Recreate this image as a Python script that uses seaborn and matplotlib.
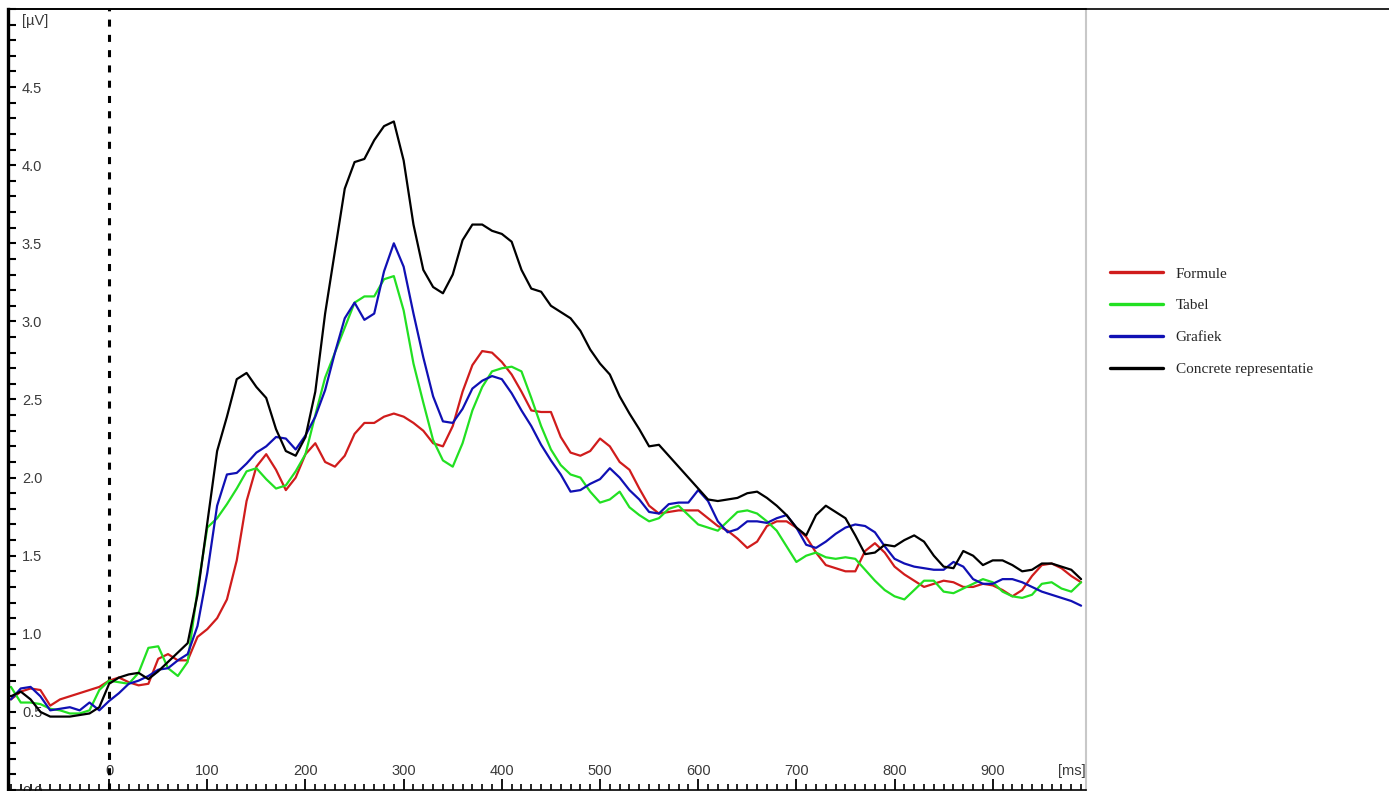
import matplotlib
matplotlib.use("Agg")
import matplotlib.pyplot as plt
from matplotlib.lines import Line2D
from matplotlib.ticker import FixedLocator
import numpy as np
import pandas as pd
import seaborn as sns

# Sample times (ms) of the averaged ERP waveforms
time_ms = list(range(-100, 1000, 10))

formule = [
    0.58, 0.63, 0.65, 0.64, 0.54, 0.58, 0.60, 0.62, 0.64, 0.66,
    0.70, 0.72, 0.69, 0.67, 0.68, 0.84, 0.87, 0.83, 0.83, 0.98,
    1.03, 1.10, 1.22, 1.47, 1.85, 2.07, 2.15, 2.05, 1.92, 2.00,
    2.15, 2.22, 2.10, 2.07, 2.14, 2.28, 2.35, 2.35, 2.39, 2.41,
    2.39, 2.35, 2.30, 2.22, 2.20, 2.33, 2.55, 2.72, 2.81, 2.80,
    2.74, 2.66, 2.55, 2.43, 2.42, 2.42, 2.26, 2.16, 2.14, 2.17,
    2.25, 2.20, 2.10, 2.05, 1.93, 1.82, 1.77, 1.78, 1.79, 1.79,
    1.79, 1.74, 1.69, 1.66, 1.61, 1.55, 1.59, 1.69, 1.72, 1.72,
    1.68, 1.62, 1.52, 1.44, 1.42, 1.40, 1.40, 1.53, 1.58, 1.52,
    1.43, 1.38, 1.34, 1.30, 1.32, 1.34, 1.33, 1.30, 1.30, 1.32,
    1.31, 1.28, 1.24, 1.28, 1.37, 1.44, 1.45, 1.42, 1.37, 1.33,
]

tabel = [
    0.66, 0.56, 0.56, 0.55, 0.52, 0.51, 0.49, 0.49, 0.51, 0.64,
    0.70, 0.69, 0.68, 0.75, 0.91, 0.92, 0.78, 0.73, 0.82, 1.28,
    1.68, 1.74, 1.83, 1.93, 2.04, 2.06, 1.99, 1.93, 1.95, 2.04,
    2.15, 2.40, 2.64, 2.80, 2.96, 3.12, 3.16, 3.16, 3.27, 3.29,
    3.07, 2.73, 2.48, 2.24, 2.11, 2.07, 2.22, 2.43, 2.58, 2.68,
    2.70, 2.71, 2.68, 2.51, 2.33, 2.18, 2.08, 2.02, 2.00, 1.91,
    1.84, 1.86, 1.91, 1.81, 1.76, 1.72, 1.74, 1.80, 1.82, 1.76,
    1.70, 1.68, 1.66, 1.72, 1.78, 1.79, 1.77, 1.72, 1.66, 1.56,
    1.46, 1.50, 1.52, 1.49, 1.48, 1.49, 1.48, 1.41, 1.34, 1.28,
    1.24, 1.22, 1.28, 1.34, 1.34, 1.27, 1.26, 1.29, 1.32, 1.35,
    1.33, 1.27, 1.24, 1.23, 1.25, 1.32, 1.33, 1.29, 1.27, 1.33,
]

grafiek = [
    0.58, 0.65, 0.66, 0.60, 0.51, 0.52, 0.53, 0.51, 0.56, 0.51,
    0.57, 0.62, 0.68, 0.70, 0.73, 0.77, 0.78, 0.83, 0.87, 1.05,
    1.39, 1.82, 2.02, 2.03, 2.09, 2.16, 2.20, 2.26, 2.25, 2.18,
    2.27, 2.39, 2.56, 2.80, 3.02, 3.12, 3.01, 3.05, 3.32, 3.50,
    3.35, 3.05, 2.77, 2.52, 2.36, 2.35, 2.44, 2.57, 2.62, 2.65,
    2.63, 2.54, 2.43, 2.33, 2.21, 2.11, 2.02, 1.91, 1.92, 1.96,
    1.99, 2.06, 2.00, 1.92, 1.86, 1.78, 1.77, 1.83, 1.84, 1.84,
    1.92, 1.85, 1.72, 1.65, 1.67, 1.72, 1.72, 1.71, 1.74, 1.76,
    1.68, 1.57, 1.55, 1.59, 1.64, 1.68, 1.70, 1.69, 1.65, 1.56,
    1.48, 1.45, 1.43, 1.42, 1.41, 1.41, 1.46, 1.43, 1.35, 1.32,
    1.32, 1.35, 1.35, 1.33, 1.30, 1.27, 1.25, 1.23, 1.21, 1.18,
]

concrete = [
    0.60, 0.63, 0.58, 0.50, 0.47, 0.47, 0.47, 0.48, 0.49, 0.53,
    0.68, 0.72, 0.74, 0.75, 0.71, 0.76, 0.82, 0.88, 0.94, 1.25,
    1.71, 2.17, 2.39, 2.63, 2.67, 2.58, 2.51, 2.31, 2.17, 2.14,
    2.26, 2.55, 3.05, 3.45, 3.85, 4.02, 4.04, 4.16, 4.25, 4.28,
    4.03, 3.62, 3.33, 3.22, 3.18, 3.30, 3.52, 3.62, 3.62, 3.58,
    3.56, 3.51, 3.33, 3.21, 3.19, 3.10, 3.06, 3.02, 2.94, 2.82,
    2.73, 2.66, 2.52, 2.41, 2.31, 2.20, 2.21, 2.14, 2.07, 2.00,
    1.93, 1.86, 1.85, 1.86, 1.87, 1.90, 1.91, 1.87, 1.82, 1.76,
    1.68, 1.63, 1.76, 1.82, 1.78, 1.74, 1.63, 1.51, 1.52, 1.57,
    1.56, 1.60, 1.63, 1.59, 1.50, 1.43, 1.42, 1.53, 1.50, 1.44,
    1.47, 1.47, 1.44, 1.40, 1.41, 1.45, 1.45, 1.43, 1.41, 1.35,
]

condities = ["Formule", "Tabel", "Grafiek", "Concrete representatie"]
kleuren = ["#d01c1c", "#22e022", "#1010b4", "#000000"]
y_ticks = [0.0, 0.5, 1.0, 1.5, 2.0, 2.5, 3.0, 3.5, 4.0, 4.5]
x_ticks = [0, 100, 200, 300, 400, 500, 600, 700, 800, 900]

frames = []
for naam, waarden in zip(condities, [formule, tabel, grafiek, concrete]):
    frames.append(pd.DataFrame({"ms": time_ms, "uV": waarden, "Conditie": naam}))
df = pd.concat(frames, ignore_index=True)

sns.set_theme(style="white")
plt.rcParams["font.family"] = ["Liberation Sans", "DejaVu Sans"]

W, H = 1389, 791
fig = plt.figure(figsize=(W / 100, H / 100), dpi=100)
fig.patch.set_facecolor("white")
ax = fig.add_axes([8 / W, 1 / H, (1086 - 8) / W, 781 / H])

sns.lineplot(data=df, x="ms", y="uV", hue="Conditie", hue_order=condities,
             palette=dict(zip(condities, kleuren)), linewidth=1.6,
             estimator=None, sort=False, legend=False, ax=ax)

# stimulus onset marker
ax.axvline(0, color="black", linewidth=2.2, linestyle=(0, (2.3, 2.7)), zorder=1)

ax.set_xlim(-103, 995)
ax.set_ylim(0, 5.0)
ax.set_xlabel("")
ax.set_ylabel("")

ax.yaxis.set_major_locator(FixedLocator(y_ticks))
ax.yaxis.set_minor_locator(FixedLocator(np.round(np.arange(0, 5.01, 0.1), 2)))
ax.xaxis.set_major_locator(FixedLocator(x_ticks))
ax.xaxis.set_minor_locator(FixedLocator(list(range(-100, 1000, 10))))
ax.set_yticklabels([f"{v:.1f}" for v in y_ticks])
ax.set_xticklabels([str(v) for v in x_ticks])

ax.tick_params(axis="y", which="both", direction="in", length=6, width=1.5,
               color="black", left=True)
ax.tick_params(axis="y", which="major", pad=-10, labelsize=10.5, labelcolor="#3a3a3a")
ax.tick_params(axis="x", which="major", direction="in", length=8, width=1.3,
               color="black", bottom=True, pad=-8.5, labelsize=10.5, labelcolor="#3a3a3a")
ax.tick_params(axis="x", which="minor", direction="in", length=4, width=1.2,
               color="black", bottom=True)
for lbl in ax.get_yticklabels():
    lbl.set_horizontalalignment("left")
for lbl in ax.get_xticklabels():
    lbl.set_verticalalignment("bottom")

ax.spines["left"].set_color("black")
ax.spines["left"].set_linewidth(2.4)
ax.spines["top"].set_color("black")
ax.spines["top"].set_linewidth(1.2)
ax.spines["bottom"].set_color("black")
ax.spines["bottom"].set_linewidth(1.2)
ax.spines["right"].set_color("#c8c8c8")
ax.spines["right"].set_linewidth(1.5)

# unit labels
ax.annotate("[µV]", xy=(0, 4.92), xycoords=("axes fraction", "data"),
            xytext=(10, 0), textcoords="offset points", ha="left", va="center",
            fontsize=10.5, color="#3a3a3a")
ax.annotate("[ms]", xy=(981, 0), xycoords=("data", "axes fraction"),
            xytext=(0, 8.5), textcoords="offset points", ha="center", va="bottom",
            fontsize=10.5, color="#3a3a3a")

# frame line along the top of the whole panel
fig.add_artist(Line2D([8 / W, 1], [1 - 9 / H, 1 - 9 / H], transform=fig.transFigure,
                      color="black", linewidth=1.2))

handles = [Line2D([], [], color=c, linewidth=2.4) for c in kleuren]
fig.legend(handles, condities, loc="upper left",
           bbox_to_anchor=(1110 / W, 1 - 267 / H), frameon=False,
           prop={"family": "Liberation Serif", "size": 11},
           handlelength=3.45, handletextpad=0.85, labelspacing=1.18,
           borderpad=0, borderaxespad=0)

fig.savefig("out.png", dpi=100, facecolor="white")
